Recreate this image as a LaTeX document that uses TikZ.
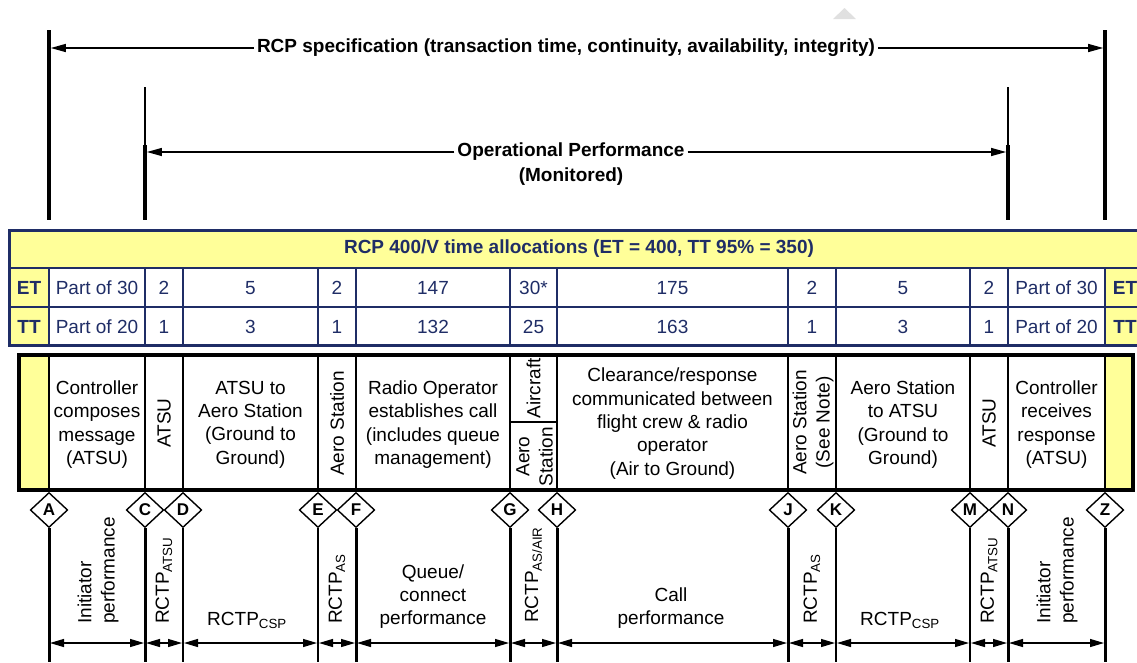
\documentclass[tikz,border=0pt]{standalone}
\usepackage{fontspec}
\setmainfont{Liberation Sans}
\usetikzlibrary{arrows.meta,shapes.geometric}
\definecolor{navy}{RGB}{31,45,102}
\definecolor{lyel}{RGB}{255,255,153}
\begin{document}
\begin{tikzpicture}[x=1pt,y=-1pt,
  txt/.style={font=\fontsize{19}{23.3}\selectfont, inner sep=0pt, align=center},
  btxt/.style={font=\bfseries\fontsize{19}{23.3}\selectfont, inner sep=0pt, align=center},
  cell/.style={txt, text=navy},
  bcell/.style={btxt, text=navy},
  rtxt/.style={txt, rotate=90},
  tarr/.style={-{Triangle[length=15pt,width=8pt]}, line width=1.3pt},
  dim/.style={{Triangle[length=14pt,width=8pt]}-{Triangle[length=14pt,width=8pt]}, line width=1.2pt, shorten <=1pt, shorten >=1pt},
  tgrid/.style={navy, line width=2pt},
  bgrid/.style={black, line width=1.6pt},
  dmd/.style={diamond, draw, line width=1.4pt, fill=white, minimum width=37.5pt, minimum height=35pt, inner sep=0pt, font=\bfseries\fontsize{17}{17}\selectfont},
  vline/.style={line width=3.6pt}
]
\useasboundingbox (0,0) rectangle (1137,662);
\clip (0,0) rectangle (1137,662);

% faint mark
\fill[black!12] (833,19) -- (856,19) -- (844.5,8) -- cycle;

% ---- top spans ----
\coordinate (s1t) at (49,30);   \coordinate (s1b) at (49,220);
\coordinate (s2t) at (1105,30); \coordinate (s2b) at (1105,220);
\draw[vline] (s1t) -- (s1b);
\draw[vline] (s2t) -- (s2b);
\coordinate (o1t) at (145,87);  \coordinate (o1m) at (145,145);  \coordinate (o1b) at (145,220);
\coordinate (o2t) at (1008,87); \coordinate (o2m) at (1008,145); \coordinate (o2b) at (1008,220);
\draw[line width=2.8pt] (o1t) -- (o1m);
\draw[line width=3.8pt] (o1m) -- (o1b);
\draw[line width=2.8pt] (o2t) -- (o2m);
\draw[line width=3.8pt] (o2m) -- (o2b);

\node[btxt, fill=white, inner xsep=3pt, inner ysep=1pt] (rcp) at (566,48) {RCP specification (transaction time, continuity, availability, integrity)};
\coordinate (rcpL) at (49,48); \coordinate (rcpR) at (1105,48);
\draw[tarr, shorten >=1.8pt] (rcp) -- (rcpL);
\draw[tarr, shorten >=1.8pt] (rcp) -- (rcpR);

\node[btxt, fill=white, inner xsep=3pt, inner ysep=1pt] (op) at (571,152) {Operational Performance};
\node[btxt] (mon) at (571,177) {(Monitored)};
\coordinate (opL) at (145,152); \coordinate (opR) at (1008,152);
\draw[tarr, shorten >=1.9pt] (op) -- (opL);
\draw[tarr, shorten >=1.9pt] (op) -- (opR);

% ---- allocation table ----
\fill[lyel] (9.5,230.5) rectangle (1150,268);
\fill[lyel] (9.5,268) rectangle (49,345.5);
\fill[lyel] (1105,268) rectangle (1150,345.5);
\foreach \y in {268,307} \draw[tgrid] (9.5,\y) -- (1150,\y);
\foreach \x in {49,145,183,318,356,510,557,788,836,970,1008,1105} \draw[tgrid] (\x,268) -- (\x,345.5);
\draw[navy, line width=3pt] (9.5,230.5) rectangle (1150,345.5);

\node[bcell] (hdr) at (579,249) {RCP 400/V time allocations (ET = 400, TT 95\% = 350)};
\node[bcell] (etL) at (29,288) {ET};
\node[bcell] (ttL) at (29,327) {TT};
\node[bcell] (etR) at (1125,288) {ET};
\node[bcell] (ttR) at (1125,327) {TT};
\foreach \x/\e/\t [count=\i] in {97/Part of 30/Part of 20, 164/2/1, 250.5/5/3, 337/2/1, 433/147/132, 533.5/30*/25, 672.5/175/163, 812/2/1, 903/5/3, 989/2/1, 1056.5/Part of 30/Part of 20}
{
  \node[cell] (e\i) at (\x,288) {\e};
  \node[cell] (t\i) at (\x,327) {\t};
}

% ---- function box ----
\fill[lyel] (19,355) rectangle (49,490);
\fill[lyel] (1105,355) rectangle (1133,490);
\foreach \x in {49,145,183,318,356,510,557,788,836,970,1008,1105} \draw[bgrid] (\x,355) -- (\x,490);
\draw[bgrid] (510,422) -- (557,422);
\draw[line width=3.2pt] (19,355) rectangle (1133,490);

\node[txt] (f1) at (97,424.5) {Controller\\composes\\message\\(ATSU)};
\node[rtxt] (f2) at (164,423) {ATSU};
\node[txt] (f3) at (250.5,424.5) {ATSU to\\Aero Station\\(Ground to\\Ground)};
\node[rtxt] (f4) at (337,423.5) {Aero Station};
\node[txt] (f5) at (433,424.5) {Radio Operator\\establishes call\\(includes queue\\management)};
\node[rtxt] (f6a) at (533.5,388.5) {Aircraft};
\node[rtxt] (f6b) at (534.5,456.5) {Aero\\Station};
\node[txt] (f7) at (672.5,423.5) {Clearance/response\\communicated between\\flight crew \& radio\\operator\\(Air to Ground)};
\node[rtxt] (f8) at (813,422.5) {Aero Station\\(See Note)};
\node[txt] (f9) at (903,424.5) {Aero Station\\to ATSU\\(Ground to\\Ground)};
\node[rtxt] (f10) at (989,423) {ATSU};
\node[txt] (f11) at (1056.5,424.5) {Controller\\receives\\response\\(ATSU)};

% ---- milestones ----
\foreach \l/\x/\w in {A/49/3, C/145/3, D/183/1.3, E/318/1.3, F/356/3, G/510/3, H/557/3, J/788/3, K/836/1.3, M/970/1.3, N/1008/3, Z/1105/3}
{
  \node[dmd] (d\l) at (\x,510) {\l};
  \coordinate (b\l) at (\x,662);
  \coordinate (a\l) at (\x,643);
  \draw[line width=\w pt] (d\l.south) -- (b\l);
}
\foreach \p/\q in {A/C,C/D,D/E,E/F,F/G,G/H,H/J,J/K,K/M,M/N,N/Z}
  \draw[dim] (a\p) -- (a\q);

% ---- performance labels ----
\node[rtxt, align=left, anchor=west] (p1) at (98,624) {Initiator\\performance};
\node[rtxt, anchor=west] (p2) at (164,624) {RCTP\textsubscript{ATSU}};
\node[txt, anchor=base] (p3) at (247,625) {RCTP\textsubscript{CSP}};
\node[rtxt, anchor=west] (p4) at (337,624) {RCTP\textsubscript{AS}};
\node[txt, anchor=south] (p5) at (433,629) {Queue/\\connect\\performance};
\node[rtxt, anchor=west] (p6) at (533.5,623) {RCTP\textsubscript{AS/AIR}};
\node[txt, anchor=south] (p7) at (671,629) {Call\\performance};
\node[rtxt, anchor=west] (p8) at (812,624) {RCTP\textsubscript{AS}};
\node[txt, anchor=base] (p9) at (900,625) {RCTP\textsubscript{CSP}};
\node[rtxt, anchor=west] (p10) at (989,624) {RCTP\textsubscript{ATSU}};
\node[rtxt, align=left, anchor=west] (p11) at (1057,624) {Initiator\\performance};
\end{tikzpicture}
\end{document}
